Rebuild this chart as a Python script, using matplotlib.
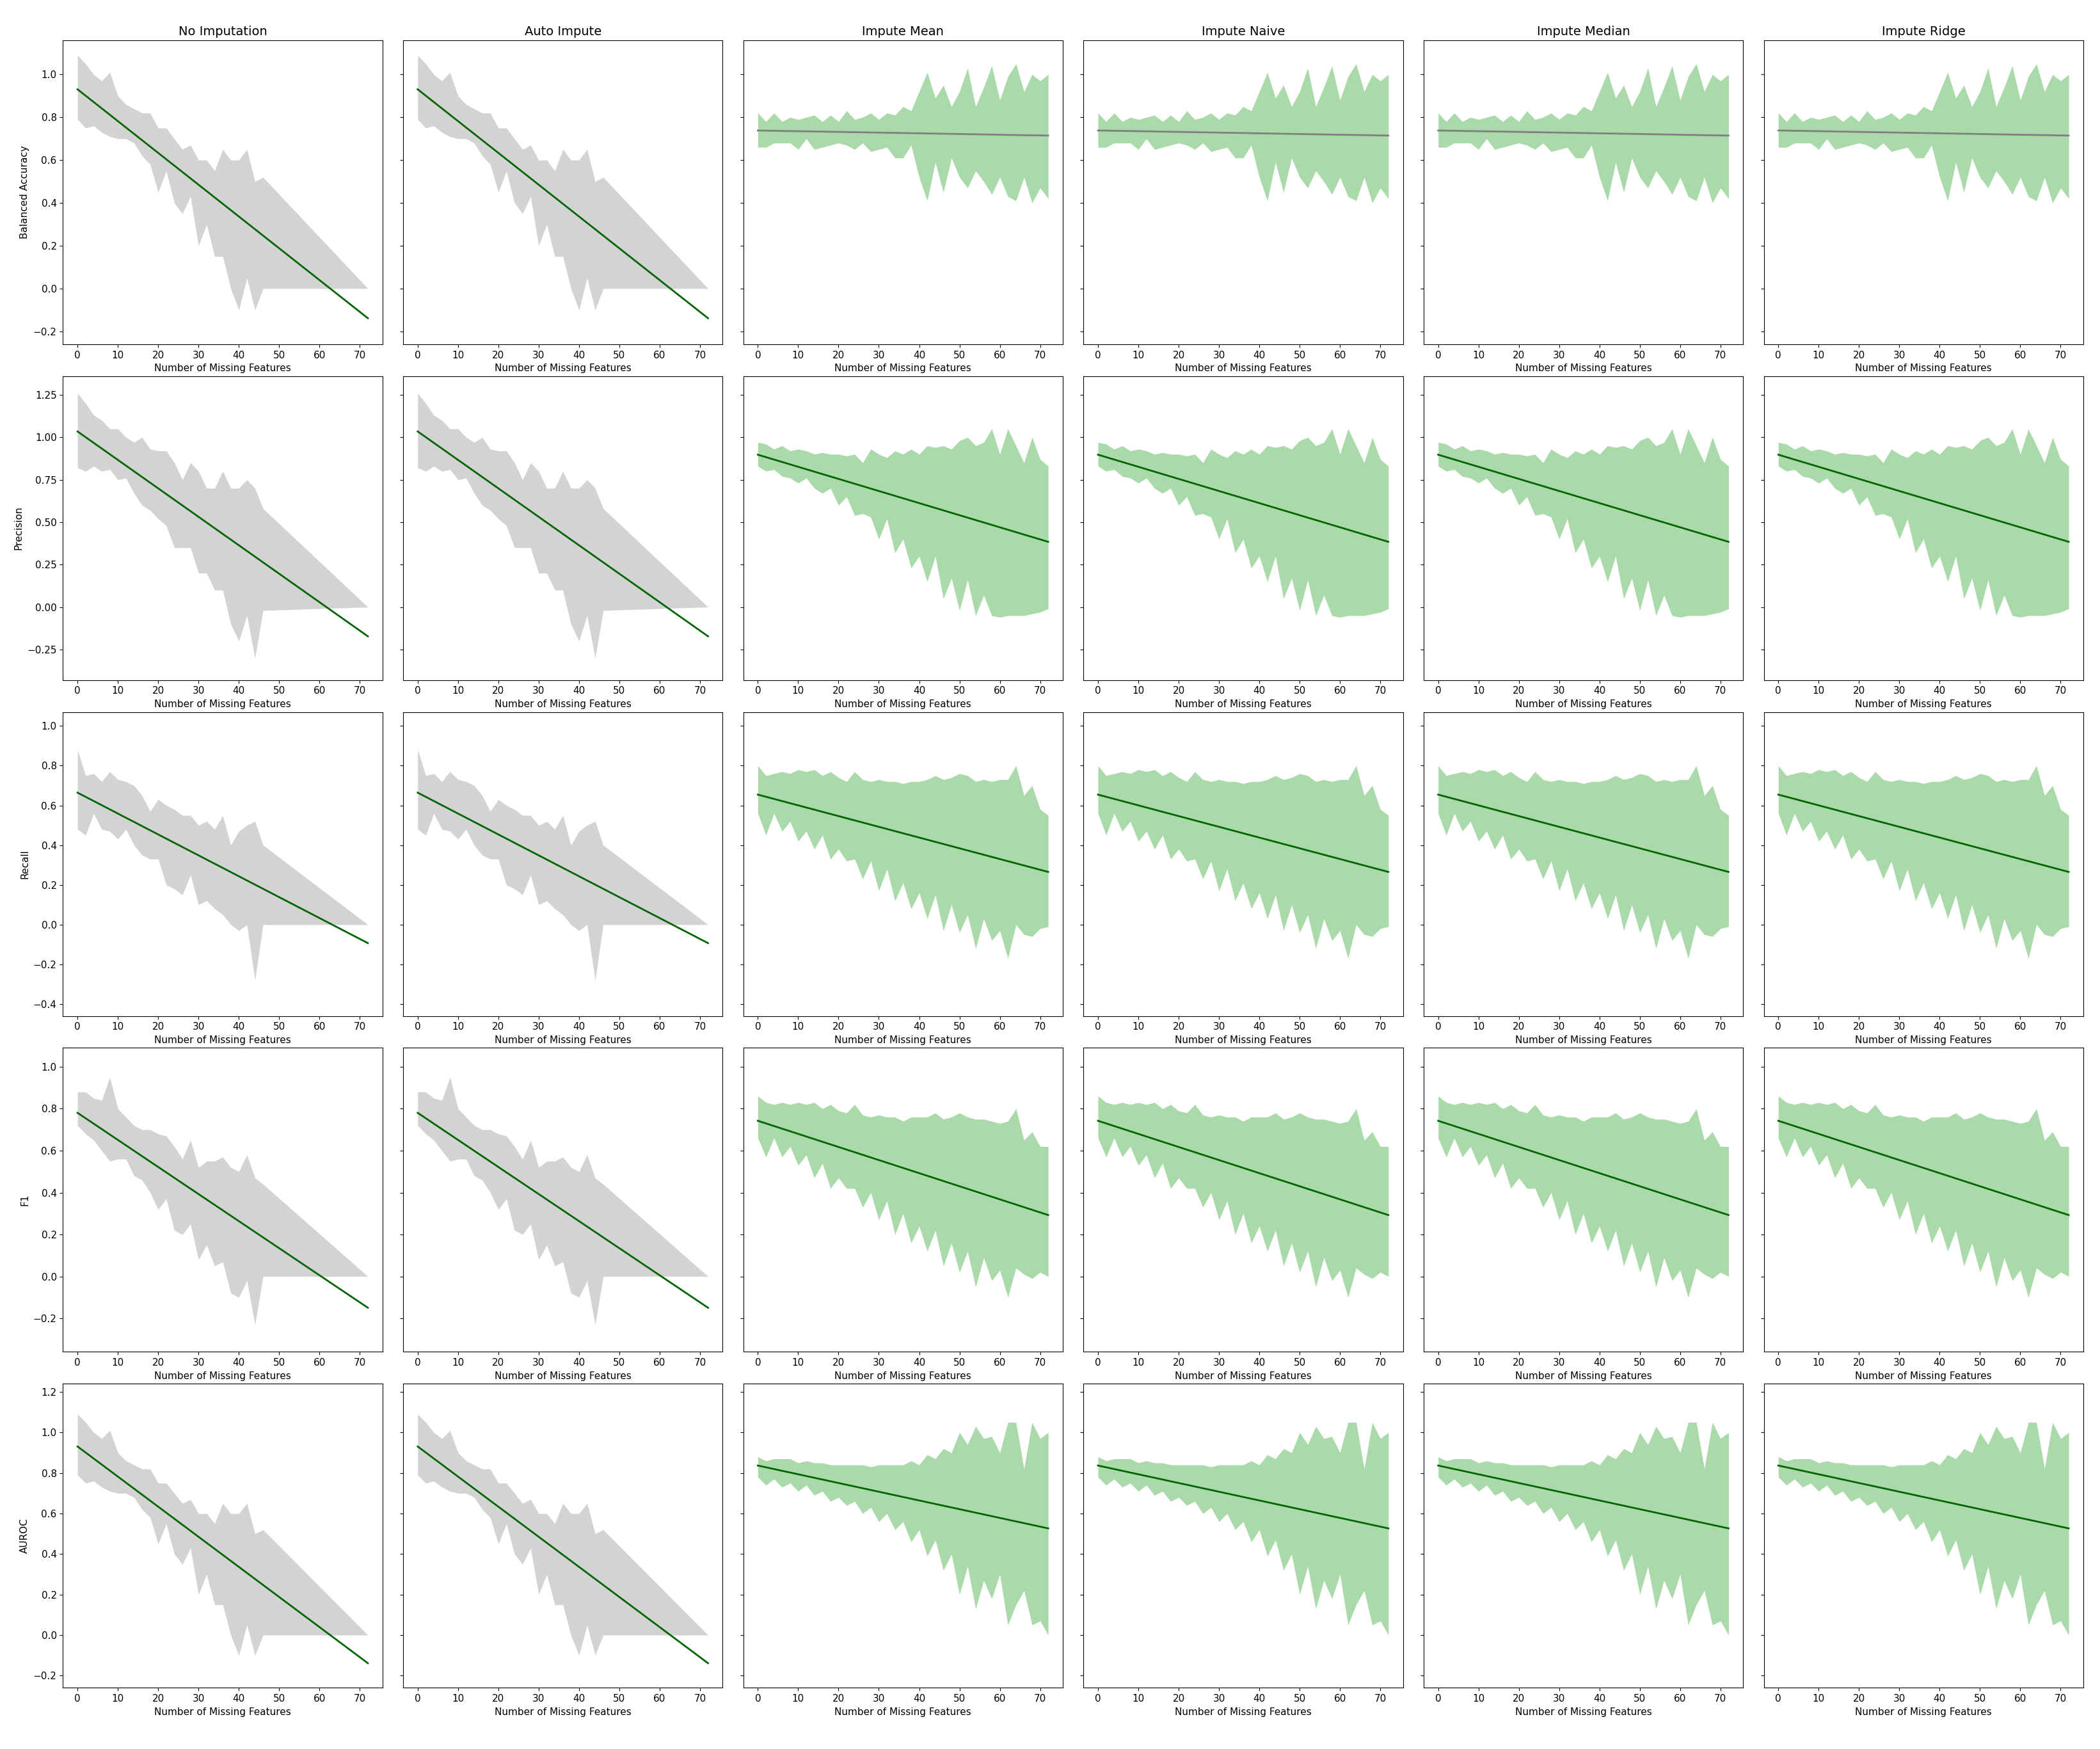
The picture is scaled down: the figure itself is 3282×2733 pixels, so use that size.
import numpy as np
import matplotlib
matplotlib.use("Agg")
import matplotlib.pyplot as plt

methods = ["No Imputation", "Auto Impute", "Impute Mean", "Impute Naive", "Impute Median", "Impute Ridge"]
metrics = ["Balanced Accuracy", "Precision", "Recall", "F1", "AUROC"]

# gray panels: observed up to ~46 missing features, then a single point at 72
x_gray = list(range(0, 47, 2)) + [72]
x_green = list(range(0, 73, 2))

ba_gray_mean = [0.94,0.9,0.88,0.85,0.86,0.8,0.78,0.76,0.72,0.7,0.6,0.65,0.55,0.5,0.55,0.4,0.45,0.35,0.4,0.3,0.25,0.35,0.2,0.26,0.0]
ba_gray_sd = [0.15,0.15,0.12,0.12,0.15,0.1,0.08,0.08,0.1,0.12,0.15,0.1,0.15,0.15,0.12,0.2,0.15,0.2,0.25,0.3,0.35,0.3,0.3,0.26,0.0]
pr_gray_mean = [1.04,1.0,0.98,0.95,0.93,0.9,0.88,0.82,0.8,0.75,0.72,0.7,0.6,0.55,0.6,0.5,0.45,0.4,0.45,0.3,0.25,0.35,0.2,0.28,0.0]
pr_gray_sd = [0.22,0.2,0.15,0.15,0.12,0.15,0.12,0.15,0.2,0.18,0.2,0.22,0.25,0.2,0.25,0.3,0.25,0.3,0.35,0.4,0.45,0.4,0.5,0.3,0.0]
re_gray_mean = [0.68,0.6,0.66,0.6,0.62,0.58,0.6,0.55,0.5,0.45,0.48,0.4,0.38,0.35,0.4,0.3,0.32,0.28,0.3,0.2,0.22,0.25,0.12,0.2,0.0]
re_gray_sd = [0.2,0.15,0.1,0.12,0.15,0.15,0.12,0.15,0.15,0.12,0.15,0.2,0.2,0.2,0.15,0.2,0.2,0.2,0.25,0.2,0.25,0.25,0.4,0.2,0.0]
f1_gray_mean = [0.8,0.78,0.75,0.72,0.75,0.68,0.66,0.6,0.58,0.55,0.5,0.52,0.42,0.38,0.45,0.3,0.35,0.3,0.32,0.22,0.2,0.28,0.12,0.22,0.0]
f1_gray_sd = [0.08,0.1,0.1,0.12,0.2,0.12,0.1,0.12,0.12,0.15,0.18,0.15,0.2,0.18,0.2,0.22,0.2,0.25,0.25,0.3,0.3,0.3,0.35,0.22,0.0]
au_gray_mean = ba_gray_mean
au_gray_sd = ba_gray_sd

ba_green_mean = [0.74,0.72,0.75,0.73,0.74,0.72,0.75,0.73,0.72,0.74,0.73,0.75,0.72,0.74,0.73,0.72,0.74,0.71,0.73,0.75,0.72,0.71,0.74,0.7,0.73,0.72,0.75,0.7,0.72,0.74,0.7,0.71,0.73,0.72,0.7,0.72,0.71]
ba_green_sd = [0.08,0.06,0.07,0.05,0.06,0.07,0.05,0.08,0.06,0.07,0.05,0.08,0.07,0.06,0.09,0.07,0.08,0.1,0.12,0.08,0.2,0.3,0.15,0.25,0.12,0.2,0.28,0.15,0.22,0.3,0.18,0.28,0.32,0.2,0.3,0.25,0.29]
pr_green_mean = [0.9,0.88,0.87,0.86,0.84,0.83,0.84,0.8,0.79,0.8,0.75,0.77,0.72,0.7,0.73,0.65,0.7,0.62,0.65,0.58,0.6,0.55,0.62,0.5,0.55,0.48,0.58,0.45,0.52,0.5,0.42,0.5,0.45,0.4,0.48,0.42,0.41]
pr_green_sd = [0.07,0.08,0.06,0.09,0.08,0.1,0.08,0.1,0.12,0.1,0.15,0.12,0.18,0.15,0.2,0.25,0.18,0.3,0.25,0.35,0.3,0.4,0.32,0.45,0.38,0.5,0.42,0.5,0.45,0.55,0.48,0.55,0.5,0.45,0.52,0.45,0.42]
re_green_mean = [0.68,0.6,0.66,0.62,0.64,0.6,0.62,0.58,0.6,0.55,0.56,0.52,0.55,0.48,0.52,0.45,0.5,0.42,0.46,0.4,0.44,0.38,0.45,0.35,0.42,0.36,0.4,0.3,0.38,0.32,0.35,0.28,0.4,0.3,0.32,0.28,0.27]
re_green_sd = [0.12,0.15,0.1,0.15,0.12,0.18,0.15,0.2,0.15,0.22,0.18,0.2,0.22,0.25,0.2,0.28,0.22,0.3,0.25,0.32,0.28,0.35,0.3,0.38,0.32,0.4,0.35,0.42,0.35,0.4,0.38,0.45,0.4,0.35,0.38,0.3,0.28]
f1_green_mean = [0.76,0.7,0.74,0.7,0.72,0.68,0.7,0.65,0.67,0.62,0.63,0.6,0.62,0.55,0.58,0.52,0.56,0.48,0.52,0.46,0.5,0.44,0.5,0.4,0.46,0.4,0.44,0.35,0.42,0.36,0.38,0.32,0.42,0.33,0.34,0.32,0.31]
f1_green_sd = [0.1,0.13,0.08,0.13,0.1,0.15,0.12,0.18,0.13,0.2,0.16,0.18,0.2,0.22,0.18,0.25,0.2,0.28,0.22,0.3,0.26,0.32,0.28,0.35,0.3,0.38,0.32,0.4,0.33,0.38,0.35,0.42,0.38,0.32,0.35,0.3,0.31]
au_green_mean = [0.83,0.8,0.82,0.8,0.81,0.78,0.8,0.77,0.78,0.75,0.76,0.74,0.75,0.72,0.73,0.7,0.72,0.68,0.7,0.66,0.68,0.64,0.67,0.62,0.65,0.6,0.64,0.58,0.62,0.58,0.6,0.55,0.6,0.52,0.55,0.52,0.5]
au_green_sd = [0.05,0.06,0.05,0.07,0.06,0.07,0.06,0.08,0.07,0.09,0.08,0.1,0.09,0.12,0.1,0.14,0.12,0.16,0.14,0.2,0.16,0.25,0.2,0.3,0.25,0.4,0.3,0.45,0.35,0.4,0.3,0.5,0.45,0.3,0.5,0.45,0.5]

gray_data = [(ba_gray_mean, ba_gray_sd), (pr_gray_mean, pr_gray_sd), (re_gray_mean, re_gray_sd),
             (f1_gray_mean, f1_gray_sd), (au_gray_mean, au_gray_sd)]
green_data = [(ba_green_mean, ba_green_sd), (pr_green_mean, pr_green_sd), (re_green_mean, re_green_sd),
              (f1_green_mean, f1_green_sd), (au_green_mean, au_green_sd)]

ylims = [(-0.26, 1.16), (-0.43, 1.36), (-0.46, 1.07), (-0.36, 1.09), (-0.26, 1.24)]
yticks = [np.arange(-0.2, 1.01, 0.2), np.arange(-0.25, 1.26, 0.25), np.arange(-0.4, 1.01, 0.2),
          np.arange(-0.2, 1.01, 0.2), np.arange(-0.2, 1.21, 0.2)]

fig, axes = plt.subplots(5, 6, figsize=(32.82, 27.33), dpi=100, sharey='row')
for r in range(5):
    for c in range(6):
        ax = axes[r, c]
        if c < 2:
            x = np.array(x_gray); m, s = gray_data[r]; fill = '#d3d3d3'; alpha = 1
        else:
            x = np.array(x_green); m, s = green_data[r]; fill = 'tab:green'; alpha = 0.4
        m = np.array(m); s = np.array(s)
        ax.fill_between(x, m - s, m + s, color=fill, alpha=alpha, lw=0)
        k, b = np.polyfit(x, m, 1)
        xl = np.array([0, 72])
        lc = 'grey' if (r == 0 and c >= 2) else 'darkgreen'
        ax.plot(xl, k * xl + b, color=lc, lw=2)
        ax.set_xticks(range(0, 71, 10))
        ax.set_xlim(-3.6, 75.6)
        ax.set_ylim(*ylims[r])
        ax.set_yticks(yticks[r])
        ax.tick_params(labelsize=11)
        ax.set_xlabel("Number of Missing Features", fontsize=11)
        if r == 0:
            ax.set_title(methods[c], fontsize=14)
        if c == 0:
            ax.set_ylabel(metrics[r], fontsize=11)

plt.subplots_adjust(left=0.03, right=0.992, top=0.977, bottom=0.035, wspace=0.065, hspace=0.105)
plt.savefig("out.png")
